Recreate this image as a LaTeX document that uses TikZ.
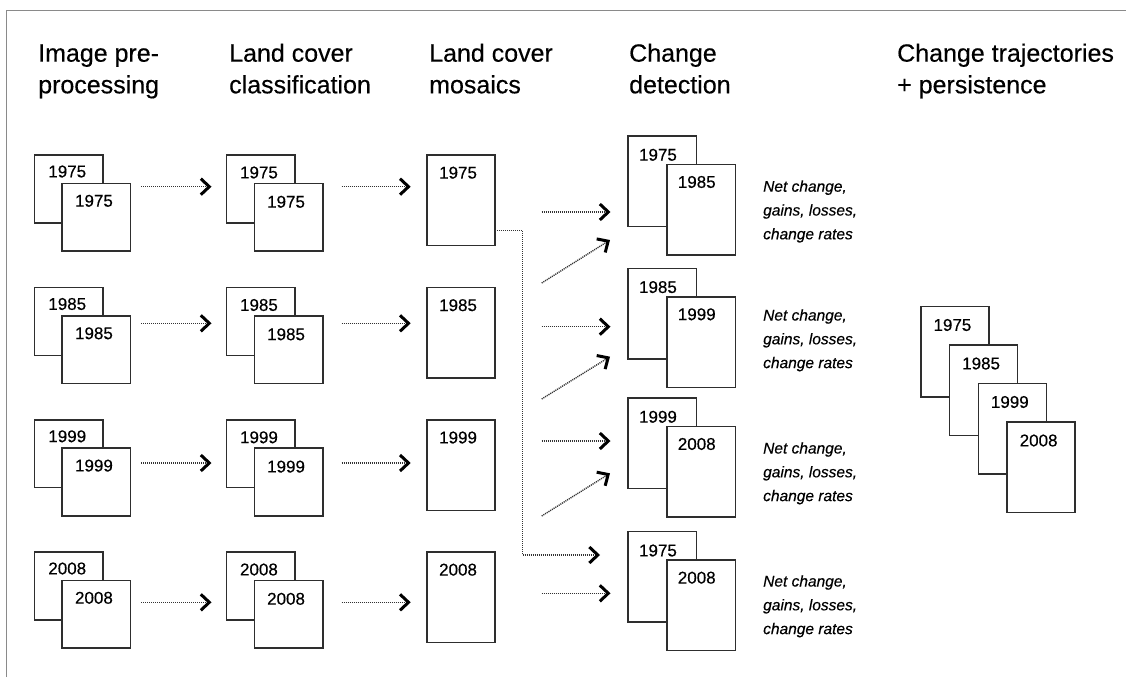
\documentclass[tikz,border=0pt]{standalone}
\usepackage{fontspec}
\setmainfont{Liberation Sans}[FakeBold=0.35]
\usetikzlibrary{arrows.meta}
\definecolor{framegray}{HTML}{8A8A8A}
\definecolor{boxline}{HTML}{2E2E2E}
\definecolor{dotline}{HTML}{333333}
\tikzset{
  sheet/.style={draw=boxline, line width=1.5pt, fill=white, anchor=north west,
    minimum width=68.5pt, minimum height=67.8pt, inner sep=0pt, outer sep=0pt},
  tallsheet/.style={sheet, minimum height=90.5pt},
  yr/.style={font=\fontsize{17}{20}\selectfont, inner sep=0pt, text=black},
  head/.style={font=\fontsize{25}{30}\selectfont, anchor=base west, inner sep=0pt, text=black},
  note/.style={font=\fontsize{15.5}{18}\selectfont\itshape, anchor=base west, inner sep=0pt, text=black},
  flow/.style={draw=dotline, line width=1.4pt, dash pattern=on 1.1pt off 0.9pt,
    -{Straight Barb[length=8.5pt,width=16pt,line width=3pt,color=black]}},
}
\begin{document}
\begin{tikzpicture}[x=1pt,y=-1pt]
\useasboundingbox (0,0) rectangle (1126,677);

% page frame
\draw[framegray, line width=1.2pt] (6.3,677) -- (6.3,10.7) -- (1126,10.7);

% column headings
\node[head] (h1a) at (38,61.7) {Image pre-};
\node[head] (h1b) at (38,93.3) {processing};
\node[head] (h2a) at (229,61.7) {Land cover};
\node[head] (h2b) at (229,93.3) {classification};
\node[head] (h3a) at (429,61.7) {Land cover};
\node[head] (h3b) at (429,93.3) {mosaics};
\node[head] (h4a) at (629,61.7) {Change};
\node[head] (h4b) at (629,93.3) {detection};
\node[head] (h5a) at (897,61.7) {Change trajectories};
\node[head] (h5b) at (897,93.3) {+ persistence};

% pre-processing, classification and mosaics, one row per year
\foreach \r/\yr/\t/\ay in {1/1975/155/186.7, 2/1985/287.5/323.3, 3/1999/419.8/463, 4/2008/552/602.3} {
  % image pre-processing pair
  \node[sheet] (pre\r b) at (34.5,\t) {};
  \node[yr] (pre\r bt) at ([shift={(-1.5,16.5)}]pre\r b.north) {\yr};
  \node[sheet] (pre\r f) at (62.2,\t+28.3) {};
  \node[yr] (pre\r ft) at ([shift={(-2.5,17.5)}]pre\r f.north) {\yr};
  % classification pair
  \node[sheet] (cls\r b) at (226.7,\t) {};
  \node[yr] (cls\r bt) at ([shift={(-2,17.5)}]cls\r b.north) {\yr};
  \node[sheet] (cls\r f) at (254.3,\t+28.3) {};
  \node[yr] (cls\r ft) at ([shift={(-2.5,18.5)}]cls\r f.north) {\yr};
  % mosaic
  \node[tallsheet, minimum width=67.7pt] (mos\r) at (427.2,\t) {};
  \node[yr] (mos\r t) at ([shift={(-3,17.7)}]mos\r.north) {\yr};
  % arrows between the columns
  \coordinate (a\r s) at (141,\ay);
  \coordinate (a\r e) at (211.5,\ay);
  \coordinate (b\r s) at (341.7,\ay);
  \coordinate (b\r e) at (410.7,\ay);
  \draw[flow] (a\r s) -- (a\r e);
  \draw[flow] (b\r s) -- (b\r e);
}

% change detection pairs
\foreach \r/\ya/\yb/\t/\nb in {1/1975/1985/136/191.7, 2/1985/1999/268.3/320.5, 3/1999/2008/398/453.5, 4/1975/2008/531.7/586.5} {
  \node[tallsheet] (cd\r b) at (628.2,\t) {};
  \node[yr] (cd\r bt) at ([shift={(-4.5,18.8)}]cd\r b.north) {\ya};
  \node[tallsheet] (cd\r f) at (667,\t+28.5) {};
  \node[yr] (cd\r ft) at ([shift={(-4.5,17.5)}]cd\r f.north) {\yb};
  \node[note] (st\r a) at (763,\nb) {Net change,};
  \node[note] (st\r b) at (763,\nb+23.8) {gains, losses,};
  \node[note] (st\r c) at (763,\nb+47.6) {change rates};
}

% arrows into change detection
\foreach \r/\hy/\dy/\dt in {1/212/283/240, 2/326.7/399/356.7, 3/441/516/473.3} {
  \coordinate (c\r s) at (541.7,\hy);
  \coordinate (c\r e) at (610.5,\hy);
  \coordinate (d\r s) at (541.7,\dy);
  \coordinate (d\r e) at (610,\dt);
  \draw[flow] (c\r s) -- (c\r e);
  \draw[flow] (d\r s) -- (d\r e);
}
\coordinate (c4e) at (600,555);
\draw[flow] (mos1.east |- 0,230.7) -| (522.3,555) -- (c4e);
\coordinate (d4s) at (541.7,593.3);
\coordinate (d4e) at (610.5,593.3);
\draw[flow] (d4s) -- (d4e);

% change trajectories stack
\foreach \r/\yr/\x/\t in {1/1975/921/306.7, 2/1985/949.7/345.2, 3/1999/978.4/383.7, 4/2008/1007.2/422.2} {
  \node[tallsheet, minimum width=68pt] (tr\r) at (\x,\t) {};
  \node[yr] (tr\r t) at ([shift={(-2.6,18.3)}]tr\r.north) {\yr};
}
\end{tikzpicture}
\end{document}
